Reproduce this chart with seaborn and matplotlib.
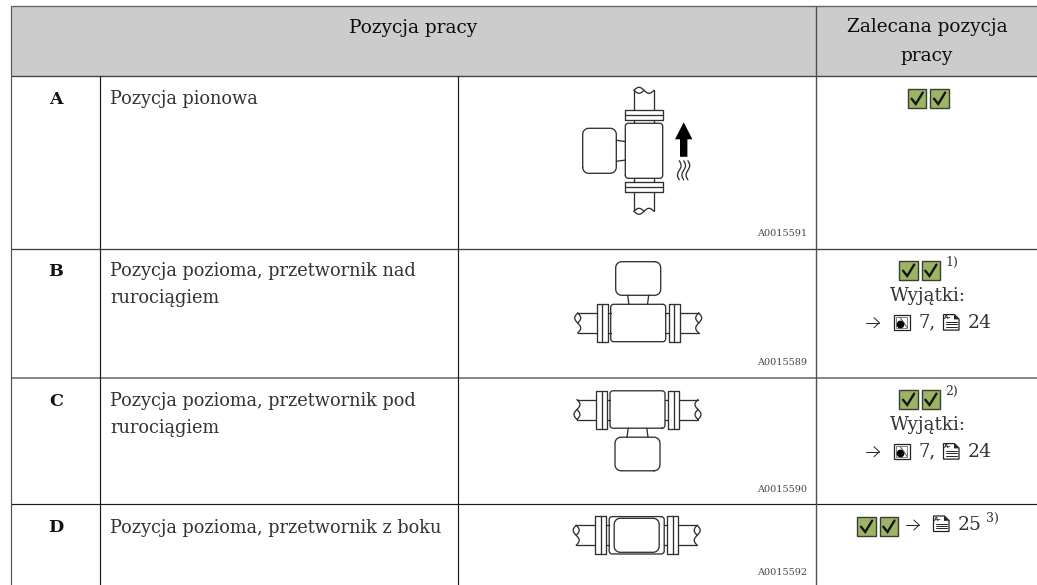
import matplotlib
matplotlib.use("Agg")
import matplotlib.pyplot as plt
import numpy as np
import seaborn as sns
from matplotlib.patches import Polygon, Rectangle

# table content
header_left = "Pozycja pracy"
header_right = "Zalecana pozycja\npracy"
row_letters = ["A", "B", "C", "D"]
row_texts = ["Pozycja pionowa",
             "Pozycja pozioma, przetwornik nad\nrurociągiem",
             "Pozycja pozioma, przetwornik pod\nrurociągiem",
             "Pozycja pozioma, przetwornik z boku"]
image_codes = ["A0015591", "A0015589", "A0015590", "A0015592"]
exception_label = "Wyjątki:"
footnotes = ["1)", "2)", "3)"]
page_refs = ["7,", "24", "25"]

# layout, in pixels of the 1037x585 picture
W, H = 1037, 585
LEFT, TOP = 11, 6
COL_X = [100, 458, 816]
ROW_Y = [76, 248.5, 378, 504]
ROW_TEXT_Y = [99, 271, 401, 528]
CODE_Y = [233.5, 362.5, 489.5, 572.5]
LINE = "#2b2b2b"
TEXT = "#333333"
GREEN = "#9bb565"
BODY = 12.75
HEAD = 13.3

sns.set_theme(style="white", rc={"axes.facecolor": "white"})
plt.rcParams["font.family"] = ["DejaVu Serif"]

fig = plt.figure(figsize=(W / 100, H / 100), dpi=100)
ax = fig.add_axes([0, 0, 1, 1])
ax.set_xlim(0, W)
ax.set_ylim(H, 0)
ax.axis("off")
sns.despine(ax=ax, left=True, bottom=True)


def rule(x0, y0, x1, y1, color=LINE, lw=0.85):
    ax.plot([x0, x1], [y0, y1], color=color, lw=lw, solid_capstyle="butt")


def rrect(u0, v0, u1, v1, r):
    """Outline of a rounded rectangle as a list of points."""
    t = np.linspace(0, np.pi / 2, 8)
    pts = []
    for cu, cv, start in [(u1 - r, v0 + r, -np.pi / 2), (u1 - r, v1 - r, 0),
                          (u0 + r, v1 - r, np.pi / 2), (u0 + r, v0 + r, np.pi)]:
        pts += list(zip(cu + r * np.cos(t + start), cv + r * np.sin(t + start)))
    pts.append(pts[0])
    return np.array(pts)


def pipe_break(e, sign):
    # wavy end of a cut pipe
    t = np.linspace(0, 1, 30)
    s = np.column_stack([e + sign * 3 * np.sin(2 * np.pi * t), -10 + 20 * t])
    t2 = np.linspace(0, 1, 15)
    a = np.column_stack([e - sign * 3 * np.sin(np.pi * t2), -10 + 10 * t2])
    return [s, a]


def draw_meter(cx, cy, kind):
    """kind: top / bottom / side / vertical"""
    if kind == "vertical":
        tr = lambda p: np.column_stack([cx + p[:, 1], cy + p[:, 0]])
    elif kind == "bottom":
        tr = lambda p: np.column_stack([cx + p[:, 0], cy - p[:, 1]])
    else:
        tr = lambda p: np.column_stack([cx + p[:, 0], cy + p[:, 1]])

    paths = [rrect(-27.5, -18.7, 27.5, 18.7, 3)]
    if kind == "side":
        paths.append(rrect(-22.5, -17, 22.5, 17, 6))
    else:
        paths.append(rrect(-22.5, -61.3, 22.5, -27.7, 6))
        paths.append(np.array([[-10.5, -27.7], [-9.3, -18.7]]))
        paths.append(np.array([[10.5, -27.7], [9.3, -18.7]]))
    for sign in (-1, 1):
        # flange, seal, pipe
        paths.append(np.array([[sign * 30.7, -19], [sign * 41.3, -19], [sign * 41.3, 19],
                               [sign * 30.7, 19], [sign * 30.7, -19]]))
        paths.append(np.array([[sign * 36, -19], [sign * 36, 19]]))
        for v in (-10, 10):
            paths.append(np.array([[sign * 27.5, v], [sign * 30.7, v]]))
            paths.append(np.array([[sign * 41.3, v], [sign * 60.5, v]]))
        paths += pipe_break(sign * 60.5, sign)
    for p in paths:
        q = tr(p)
        ax.plot(q[:, 0], q[:, 1], color="#303030", lw=0.95)


def draw_flow_arrow(x, y):
    ax.add_patch(Polygon([(x, y), (x + 8.7, y + 17), (x + 3.7, y + 17), (x + 3.7, y + 34.5),
                          (x - 3.7, y + 34.5), (x - 3.7, y + 17), (x - 8.7, y + 17)],
                         closed=True, color="black", lw=0))
    t = np.linspace(0, 1, 30)
    for dx in (-4.4, 0, 4.2):
        ax.plot(x + dx + 1.8 * np.sin(2 * np.pi * t), y + 38.5 + 19 * t, color="#303030", lw=0.95)


def check_box(x, y, size=18.4):
    ax.add_patch(Rectangle((x, y), size, size, facecolor=GREEN, edgecolor="#3c3c34", lw=1.0))
    ax.plot([x + 3.8, x + 8, x + 15], [y + 9.5, y + 14.8, y + 3.4], color="#151515", lw=1.7,
            solid_joinstyle="miter")


def arrow_right(x, y):
    ax.plot([x, x + 13.4], [y, y], color="#222222", lw=0.7)
    ax.plot([x + 8, x + 13.4, x + 8], [y - 5, y, y + 5], color="#222222", lw=0.7)


def fig_icon(x, y):
    ax.add_patch(Rectangle((x, y), 15.5, 15.5, facecolor="white", edgecolor="#222222", lw=0.9))
    ax.add_patch(Rectangle((x + 2.2, y + 2.2), 11, 11, facecolor="white", edgecolor="#555555", lw=0.5))
    ax.plot([x + 5.5], [y + 9.2], "o", color="black", ms=4.6)
    ax.plot([x + 6, x + 9, x + 13], [y + 3, y + 7, y + 13], color="#444444", lw=0.6)


def doc_icon(x, y):
    ax.add_patch(Polygon([(x, y), (x + 11, y), (x + 15.5, y + 4.5), (x + 15.5, y + 15.5), (x, y + 15.5)],
                         closed=True, facecolor="white", edgecolor="#222222", lw=0.9))
    ax.add_patch(Polygon([(x + 10.5, y), (x + 15.5, y + 4.8), (x + 10.5, y + 4.8)], closed=True, color="#222222", lw=0))
    ax.text(x + 4.6, y + 3.2, "A–", fontsize=4.2, ha="center", va="center", color="#222222",
            family="DejaVu Sans", weight="bold")
    for dy in (7.5, 9.8, 12.1):
        ax.plot([x + 2, x + 13.5], [y + dy, y + dy], color="#222222", lw=0.7)


def body_text(x, y, s, size=BODY, ha="center", **kw):
    ax.text(x, y, s, fontsize=size, ha=ha, va="center", color=TEXT, **kw)


# header band and grid
ax.add_patch(Rectangle((LEFT, TOP), W - LEFT, ROW_Y[0] - TOP, facecolor="#cccccc", edgecolor="none"))
rule(LEFT, TOP, W, TOP, color="#666666", lw=1.0)
rule(LEFT, ROW_Y[0], W, ROW_Y[0], color="#404040", lw=0.95)
rule(LEFT, ROW_Y[1], W, ROW_Y[1], color="#404040", lw=0.95)
rule(LEFT, ROW_Y[2], W, ROW_Y[2], color="#707070", lw=1.2)
rule(LEFT, ROW_Y[3], W, ROW_Y[3], color="#1a1a1a")
rule(LEFT, TOP, LEFT, H, color="#555555")
rule(COL_X[2], TOP, COL_X[2], H, color="#505050", lw=1.0)
for x in COL_X[:2]:
    rule(x, ROW_Y[0], x, H, color="#1a1a1a")

# header text
ax.text((LEFT + COL_X[2]) / 2, 28, header_left, fontsize=HEAD, ha="center", va="center", color="#0c0c0c")
ax.text((COL_X[2] + W) / 2 + 0.5, 41.5, header_right, fontsize=HEAD, ha="center", va="center",
        color="#0c0c0c", linespacing=1.72)

# rows
for letter, text, code, ty, cy in zip(row_letters, row_texts, image_codes, ROW_TEXT_Y, CODE_Y):
    ax.text(56, ty, letter, fontsize=12.6, weight="bold", ha="center", va="center", color="#111111")
    ax.text(110, ty - 9, text, fontsize=BODY, ha="left", va="top", color=TEXT, linespacing=1.65)
    ax.text(807.5, cy, code, fontsize=6.9, ha="right", va="center", color="#444444")

# diagrams
draw_meter(644, 150.8, "vertical")
draw_meter(638.2, 323, "top")
draw_meter(637.5, 409.5, "bottom")
draw_meter(636.7, 535.3, "side")
draw_flow_arrow(683.7, 122.3)

# recommendation column
check_box(907.8, 89.2)
check_box(930.2, 89.2)

for off, note in zip((0, 129), footnotes[:2]):
    check_box(899.2, 261.2 + off)
    check_box(921.5, 261.2 + off)
    body_text(951.5, 262 + off, note, size=9)
    body_text(927.7, 296 + off, exception_label, size=13.2)
    arrow_right(866, 322.7 + off)
    fig_icon(894.2, 314.6 + off)
    body_text(918.5, 322.7 + off, page_refs[0], size=13, ha="left")
    doc_icon(943.5, 314.6 + off)
    body_text(968, 322.7 + off, page_refs[1], size=13.5, ha="left")

check_box(857.2, 517.2)
check_box(879.5, 517.2)
arrow_right(905.8, 525)
doc_icon(933.5, 516)
body_text(958, 525, page_refs[2], size=13.5, ha="left")
body_text(992, 518, footnotes[2], size=9)

plt.savefig("out.png", dpi=100)
plt.close()
